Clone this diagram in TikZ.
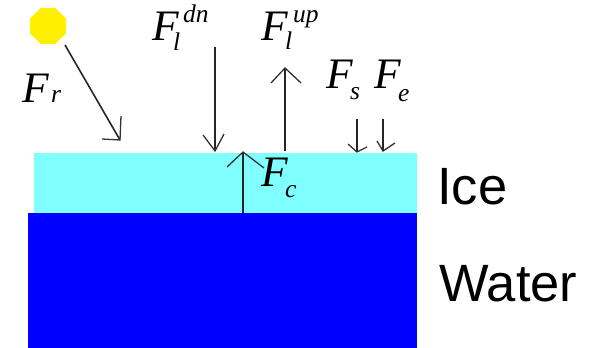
\documentclass[tikz,border=0pt]{standalone}
\usepackage{fontspec}
\setmainfont{Liberation Serif}
\newfontfamily\labelsans{Liberation Sans}
\usetikzlibrary{shapes.geometric}
\tikzset{
  x=1pt,y=-1pt,
  big/.style={inner sep=0pt,anchor=base west,font=\itshape\fontsize{43.5}{43.5}\selectfont},
  small/.style={inner sep=0pt,anchor=base west,font=\itshape\fontsize{25.5}{25.5}\selectfont},
  layerlabel/.style={inner sep=0pt,anchor=base west,font=\labelsans\fontsize{52.5}{52.5}\selectfont},
  flux/.style={draw=black!85,line width=1.6pt},
  head/.style={draw=black!80,line width=1.3pt}
}
\definecolor{icecol}{RGB}{128,255,255}
\definecolor{watercol}{RGB}{0,0,255}
\definecolor{suncol}{RGB}{255,240,0}
\begin{document}
\begin{tikzpicture}
\useasboundingbox (0,0) rectangle (590,348);
\fill[icecol] (34,153) rectangle (417,213);
\fill[watercol] (28,213) rectangle (417,348);
\node[regular polygon,regular polygon sides=8,fill=suncol,minimum size=39pt,inner sep=0pt] (sun) at (48,26) {};
% coordinates
\coordinate (r0) at (65,45); \coordinate (r1) at (120,140);
\coordinate (r2) at (102,139); \coordinate (r3) at (121,116);
\coordinate (d0) at (215,47); \coordinate (d1) at (215,151);
\coordinate (d2) at (203,135); \coordinate (d3) at (224,134);
\coordinate (u0) at (285,151); \coordinate (u1) at (285,68);
\coordinate (u2) at (271,83); \coordinate (u3) at (301,83);
\coordinate (c0) at (243,213); \coordinate (c1) at (243,152);
\coordinate (c2) at (227,167); \coordinate (c3) at (264,168);
\coordinate (s0) at (357,119); \coordinate (s1) at (357,152);
\coordinate (s2) at (348,144); \coordinate (s3) at (367,147);
\coordinate (e0) at (383,119); \coordinate (e1) at (383,151);
\coordinate (e2) at (377,141); \coordinate (e3) at (395,143);
\foreach \a in {r,d,u,c,s,e}{
  \draw[flux] (\a0) -- (\a1);
  \draw[head] (\a2) -- (\a1) -- (\a3);
}
% labels
\node[big] (fr) at (22,102) {F};
\node[small] (frs) at (51,102) {r};
\node[big] (fd) at (152,41) {F};
\node[small] (fds) at (173,50) {l};
\node[small] (fdt) at (183,23) {dn};
\node[big] (fu) at (261,40) {F};
\node[small] (fus) at (285,49) {l};
\node[small] (fut) at (293,22) {up};
\node[big] (fs) at (326,88) {F};
\node[small] (fss) at (350,99) {s};
\node[big] (fe) at (374,88) {F};
\node[small] (fes) at (398,101) {e};
\node[big] (fc) at (261,186) {F};
\node[small] (fcs) at (285,197) {c};
\node[layerlabel] (ice) at (437,204) {Ice};
\node[layerlabel] (water) at (439,301) {Water};
\end{tikzpicture}
\end{document}
